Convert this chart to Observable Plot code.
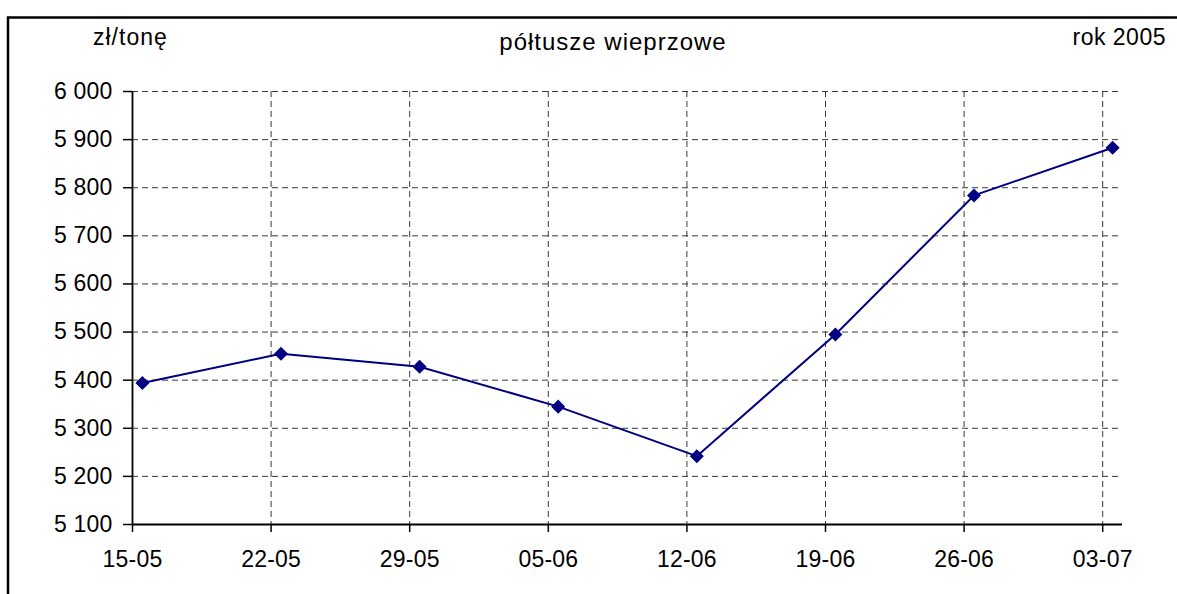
<!DOCTYPE html>
<html>
<head>
<meta charset="utf-8">
<script src="https://cdn.jsdelivr.net/npm/d3@7"></script>
<script src="https://cdn.jsdelivr.net/npm/@observablehq/plot@0.6"></script>
<style>
  html, body { margin: 0; padding: 0; background: #fff; }
  #chart { position: relative; width: 1177px; height: 594px; overflow: hidden; }
</style>
</head>
<body>
<div id="chart"></div>
<script>
// ---- data ----
const dates = ["2005-05-15","2005-05-22","2005-05-29","2005-06-05","2005-06-12","2005-06-19","2005-06-26","2005-07-03"];
const tickLabels = ["15-05","22-05","29-05","05-06","12-06","19-06","26-06","03-07"];
const prices = [5394, 5455, 5428, 5345, 5242, 5495, 5784, 5883];
const yTicks = [5100, 5200, 5300, 5400, 5500, 5600, 5700, 5800, 5900, 6000];
const title = "półtusze wieprzowe";
const unitLabel = "zł/tonę";
const yearLabel = "rok 2005";
const xDomain = ["2005-05-15", "2005-07-04"];

// ---- build ----
const tickDates = dates.map(d => new Date(d + "T00:00:00Z"));
// Excel date axis: each point sits in the middle of its day
const rows = dates.map((d, i) => ({date: new Date(d + "T12:00:00Z"), price: prices[i]}));
const fmtY = d => d3.format(",")(d).replace(/,/g, " ");
const fmtX = d => tickLabels[tickDates.findIndex(t => +t === +d)];
const navy = "#000080";

const plot = Plot.plot({
  width: 1177,
  height: 594,
  marginLeft: 132,
  marginRight: 55,
  marginTop: 91,
  marginBottom: 70,
  style: {fontFamily: "'Liberation Sans', Arial, sans-serif", fontSize: "23px", color: "#000", background: "transparent", letterSpacing: "0.2px"},
  x: {type: "utc", domain: xDomain.map(d => new Date(d + "T00:00:00Z"))},
  y: {domain: [5100, 6000]},
  marks: [
    Plot.gridY(yTicks.filter(t => t > 5100), {stroke: "#3a3a3a", strokeOpacity: 1, strokeWidth: 1, strokeDasharray: "6,4"}),
    Plot.gridX(tickDates.slice(1), {stroke: "#3a3a3a", strokeOpacity: 1, strokeWidth: 1, strokeDasharray: "6,4"}),
    Plot.axisY(yTicks, {tickSize: 9, tickPadding: 11, tickFormat: fmtY, fill: "#000", stroke: "#000", strokeWidth: 1.5, fontSize: 23, label: null}),
    Plot.axisX(tickDates, {tickSize: 8, tickPadding: 18, tickFormat: fmtX, fill: "#000", stroke: "#000", strokeWidth: 1.5, fontSize: 23, label: null}),
    Plot.ruleY([5100], {stroke: "#000", strokeWidth: 1.8}),
    Plot.ruleX([tickDates[0]], {stroke: "#000", strokeWidth: 1.8}),
    Plot.line(rows, {x: "date", y: "price", stroke: navy, strokeWidth: 2}),
    Plot.dot(rows, {x: "date", y: "price", symbol: "square", rotate: 45, r: 5.6, fill: navy, stroke: null})
  ]
});
plot.style.position = "absolute";
plot.style.left = "0px";
plot.style.top = "0px";
document.getElementById("chart").appendChild(plot);

// frame and header texts
const svg = d3.select(plot);
svg.append("path")
  .attr("d", "M8,600 L8,17.5 L1200,17.5")
  .attr("fill", "none").attr("stroke", "#000").attr("stroke-width", 2.5);
const hdr = svg.append("g").attr("fill", "#000");
hdr.append("text").attr("x", 93).attr("y", 45).attr("text-anchor", "start").attr("font-size", 23).attr("letter-spacing", "1px").text(unitLabel);
hdr.append("text").attr("x", 613).attr("y", 50).attr("text-anchor", "middle").attr("font-size", 24).attr("letter-spacing", "1px").text(title);
hdr.append("text").attr("x", 1166).attr("y", 45).attr("text-anchor", "end").attr("font-size", 23).attr("letter-spacing", "0.5px").text(yearLabel);
</script>
</body>
</html>
